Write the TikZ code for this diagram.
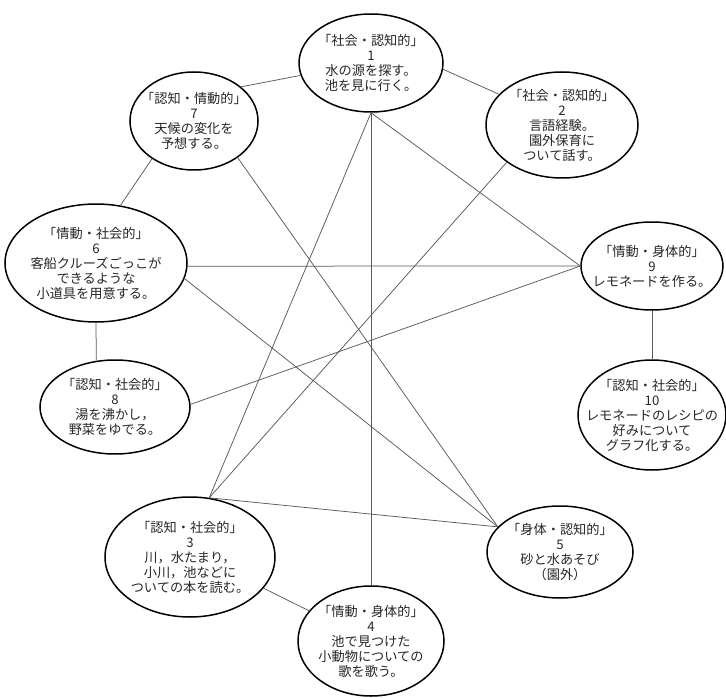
\documentclass[tikz,border=0pt]{standalone}
\usepackage{fontspec}
\newfontfamily\jpfont{Noto Sans CJK JP}
\usepackage{tikz}
\usetikzlibrary{shapes.geometric}
\tikzset{
	bubble/.style={ellipse, draw=black, line width=1.5pt, inner sep=0pt},
	bubbletext/.style={align=center, text=black!85, font=\jpfont\fontsize{13.2}{15}\selectfont},
	link/.style={black!65, line width=0.75pt},
}

\begin{document}
\begin{tikzpicture}[x=1pt,y=-1pt]
			
			\useasboundingbox (0,0) rectangle (726,698);
			
			% Activity bubbles
			\node[bubble, minimum width=144pt, minimum height=98pt] (act1) at (371,63) {};
			\node[bubbletext] (txt1) at (act1) {「社会・認知的」\\1\\水の源を探す。\\池を見に行く。};
			
			\node[bubble, minimum width=152pt, minimum height=106pt] (act2) at (562,125) {};
			\node[bubbletext] (txt2) at (act2) {「社会・認知的」\\2\\言語経験。\\園外保育に\\ついて話す。};
			
			\node[bubble, minimum width=170pt, minimum height=120pt] (act3) at (190,557) {};
			\node[bubbletext] (txt3) at (act3) {「認知・社会的」\\3\\川，水たまり，\\小川，池などに\\ついての本を読む。};
			
			\node[bubble, minimum width=146pt, minimum height=110pt] (act4) at (371,641) {};
			\node[bubbletext] (txt4) at (act4) {「情動・身体的」\\4\\池で見つけた\\小動物についての\\歌を歌う。};
			
			\node[bubble, minimum width=146pt, minimum height=92pt] (act5) at (560,552) {};
			\node[bubbletext] (txt5) at (act5) {「身体・認知的」\\5\\砂と水あそび\\（園外）};
			
			\node[bubble, minimum width=182pt, minimum height=118pt] (act6) at (96,263) {};
			\node[bubbletext] (txt6) at (act6) {「情動・社会的」\\6\\客船クルーズごっこが\\できるような\\小道具を用意する。};
			
			\node[bubble, minimum width=128pt, minimum height=98pt] (act7) at (194,121) {};
			\node[bubbletext] (txt7) at (act7) {「認知・情動的」\\7\\天候の変化を\\予想する。};
			
			\node[bubble, minimum width=150pt, minimum height=94pt] (act8) at (115,407) {};
			\node[bubbletext] (txt8) at (act8) {「認知・社会的」\\8\\湯を沸かし，\\野菜をゆでる。};
			
			\node[bubble, minimum width=142pt, minimum height=88pt] (act9) at (652,266) {};
			\node[bubbletext] (txt9) at (act9) {「情動・身体的」\\9\\レモネードを作る。};
			
			\node[bubble, minimum width=148pt, minimum height=110pt] (act10) at (652,415) {};
			\node[bubbletext] (txt10) at (act10) {「認知・社会的」\\10\\レモネードのレシピの\\好みについて\\グラフ化する。};
			
			% Outer ring links
			\draw[link] (act1.190) -- (act7.36);
			\draw[link] (act1.355) -- (act2.154);
			\draw[link] (act7.222) -- (act6.67);
			\draw[link] (act6.south) -- (act8.112);
			\draw[link] (act9.south) -- (act10.north);
			\draw[link] (act3.337) -- (act4.154);
			
			% Links across the web
			\draw[link] (act1.south) -- (act4.north);
			\draw[link] (act1.south) -- (act3.72);
			\draw[link] (act1.south) -- (act9.west);
			\draw[link] (act2.214) -- (act3.72);
			\draw[link] (act7.320) -- (act5.158);
			\draw[link] (act6.358) -- (act9.west);
			\draw[link] (act6.350) -- (act5.158);
			\draw[link] (act8.2) -- (act9.west);
			\draw[link] (act3.72) -- (act5.158);
			
		\end{tikzpicture}
\end{document}
